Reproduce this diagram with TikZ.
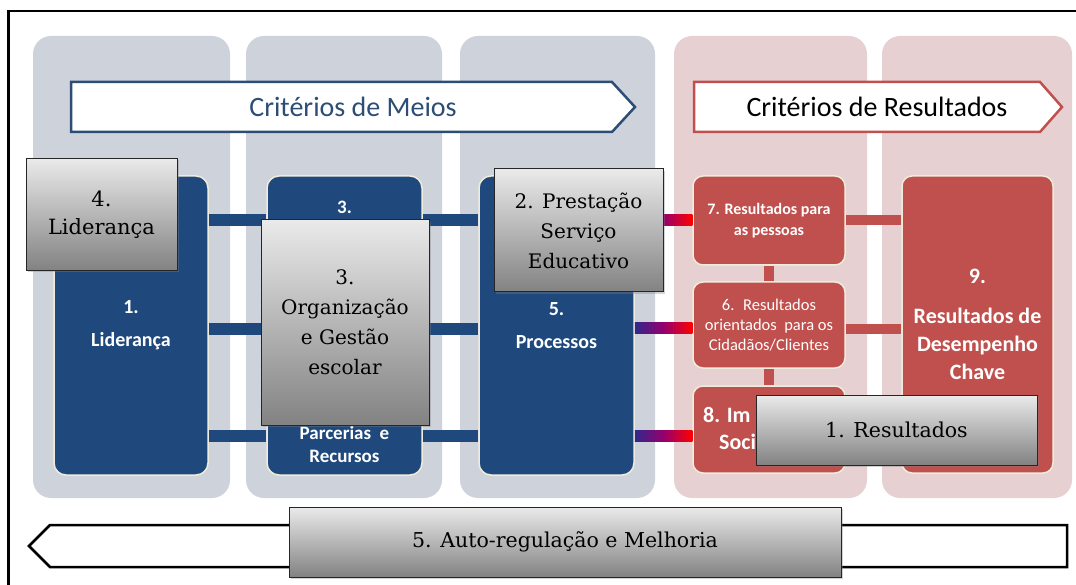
\documentclass[tikz,border=0pt]{standalone}
\usepackage{fontspec}
\setmainfont{DejaVu Serif}
\newfontfamily\calfont{Carlito}
\usetikzlibrary{shadows}
\definecolor{meiosblue}{RGB}{31,73,125}
\definecolor{headblue}{RGB}{44,77,117}
\definecolor{resred}{RGB}{192,80,77}
\definecolor{colgray}{RGB}{206,210,219}
\definecolor{colpink}{RGB}{230,208,209}
\definecolor{edgecream}{RGB}{240,236,220}
\definecolor{boxtop}{RGB}{234,234,234}
\definecolor{boxbot}{RGB}{130,130,130}
\definecolor{mixleft}{RGB}{48,40,140}
\definecolor{mixmid}{RGB}{150,0,110}
\tikzset{col/.style = {rounded corners = 18pt}}
\tikzset{bluebox/.style = {fill = meiosblue, draw = edgecream, line width = 1.5pt, rounded corners = 12pt,
                           text = white, align = center, font = \calfont\bfseries\fontsize{20}{20}\selectfont}}
\tikzset{redbox/.style = {fill = resred, draw = edgecream, line width = 1.5pt, rounded corners = 10pt,
                          text = white, align = center}}
\tikzset{graybox/.style = {draw = black!85, line width = 1pt, top color = boxtop, bottom color = boxbot,
                           drop shadow = {shadow xshift = 2pt, shadow yshift = -2pt, opacity = 0.35},
                           align = center, text = black, font = \fontsize{20}{30}\selectfont}}
\tikzset{bluebar/.style = {draw = meiosblue, line width = 12pt}}
\tikzset{redbar/.style = {draw = resred, line width = 10pt}}
\tikzset{mixbar/.style = {left color = mixleft, right color = red, middle color = mixmid}}
\tikzset{headtxt/.style = {font = \calfont\fontsize{28}{30}\selectfont}}
\tikzset{wtxt/.style = {text = white, inner sep = 0, font = \calfont\bfseries\fontsize{22}{27}\selectfont}}

\begin{document}
\begin{tikzpicture}[x = 1pt, y = -1pt]
        \useasboundingbox (0, 0) rectangle (1076, 585);
        \draw [line width = 2.5pt] (8.5, 600) -- (8.5, 11) -- (1090, 11);
        \fill [colgray, col] (33, 36) rectangle (230, 498);
        \fill [colgray, col] (246, 36) rectangle (442, 498);
        \fill [colgray, col] (460, 36) rectangle (655, 498);
        \fill [colpink, col] (674, 36) rectangle (867, 498);
        \fill [colpink, col] (882, 36) rectangle (1072, 498);
        \draw [headblue, line width = 2.5pt, fill = white] (71, 82) -- (612, 82) -- (635, 107) -- (612, 132) -- (71, 132) -- cycle;
        \draw [resred, line width = 2.5pt, fill = white] (694, 82) -- (1040, 82) -- (1062, 107) -- (1040, 132) -- (694, 132) -- cycle;
        \node (meios) at (353, 107) [headtxt, text = headblue] {Critérios de Meios};
        \node (result) at (877, 107) [headtxt, text = black] {Critérios de Resultados};
        \node (b1) at (131, 325.5) [bluebox, minimum width = 154pt, minimum height = 299pt] {1.\\[13pt]Liderança};
        \node (b2) at (344.5, 325.5) [bluebox, minimum width = 155pt, minimum height = 299pt] {};
        \node (b3) at (556.5, 325.5) [bluebox, minimum width = 155pt, minimum height = 299pt] {5.\\[13pt]Processos};
        \node (r7) at (769, 220.5) [redbox, minimum width = 152pt, minimum height = 89pt,
                                    font = \calfont\bfseries\fontsize{16}{21}\selectfont] {7. Resultados para\\as pessoas};
        \node (r6) at (769, 325) [redbox, minimum width = 152pt, minimum height = 86pt,
                                  font = \calfont\fontsize{16.5}{20}\selectfont] {6.~ Resultados\\orientados~ para os\\Cidadãos/Clientes};
        \node (r8) at (769, 429.5) [redbox, minimum width = 152pt, minimum height = 87pt] {};
        \node (r9) at (977.5, 324.5) [redbox, minimum width = 151pt, minimum height = 297pt,
                                      font = \calfont\bfseries\fontsize{22}{28}\selectfont] {9.\\[12pt]Resultados de\\Desempenho\\Chave};
        \coordinate (row1) at (0, 220);
        \coordinate (row2) at (0, 329);
        \coordinate (row3) at (0, 436);
        \coordinate (row1a) at (0, 214.5);
        \coordinate (row1b) at (0, 225.5);
        \coordinate (row2a) at (0, 322.5);
        \coordinate (row2b) at (0, 333.5);
        \coordinate (row3a) at (0, 430.5);
        \coordinate (row3b) at (0, 441.5);
        \draw [bluebar] (b1.east |- row1) -- (b2.west |- row1);
        \draw [bluebar] (b1.east |- row2) -- (b2.west |- row2);
        \draw [bluebar] (b1.east |- row3) -- (b2.west |- row3);
        \draw [bluebar] (b2.east |- row1) -- (b3.west |- row1);
        \draw [bluebar] (b2.east |- row2) -- (b3.west |- row2);
        \draw [bluebar] (b2.east |- row3) -- (b3.west |- row3);
        \shade [mixbar] (b3.east |- row1a) rectangle (r7.west |- row1b);
        \shade [mixbar] (b3.east |- row2a) rectangle (r6.west |- row2b);
        \shade [mixbar] (b3.east |- row3a) rectangle (r8.west |- row3b);
        \draw [redbar] (r7.east |- row1) -- (r9.west |- row1);
        \draw [redbar] (r6.east |- row2) -- (r9.west |- row2);
        \draw [redbar] (r7.south) -- (r6.north);
        \draw [redbar] (r6.south) -- (r8.north);
        \node (b2top) at (344.5, 207) [wtxt, font = \calfont\bfseries\fontsize{19}{20}\selectfont] {3.};
        \node (b2bot) at (344.5, 444) [wtxt, align = center, font = \calfont\bfseries\fontsize{19}{23}\selectfont] {Parcerias~ e\\Recursos};
        \node (r8a) at (703, 415) [wtxt, anchor = west] {8. Im};
        \node (r8b) at (719, 442) [wtxt, anchor = west] {Soci};
        \node (g4) at (101.5, 214.5) [graybox, minimum width = 151pt, minimum height = 112pt,
                                      font = \fontsize{21}{28}\selectfont] {4.\\Liderança};
        \node (g3) at (345, 322.5) [graybox, minimum width = 168pt, minimum height = 205pt] {3.\\Organização\\e Gestão\\escolar};
        \node (g2) at (578.5, 230.5) [graybox, minimum width = 169pt, minimum height = 123pt] {2. Prestação\\Serviço\\Educativo};
        \node (g1) at (896.5, 430) [graybox, minimum width = 281pt, minimum height = 70pt,
                                    font = \fontsize{20.5}{27}\selectfont] {1. Resultados};
        \draw [line width = 2.5pt, fill = white] (29, 546) -- (50, 525) -- (1067, 525) -- (1067, 567) -- (50, 567) -- cycle;
        \node (g5) at (565, 542) [graybox, minimum width = 552pt, minimum height = 70pt,
                                  font = \fontsize{20.5}{27}\selectfont] {5. Auto-regulação e Melhoria};
      \end{tikzpicture}
\end{document}
